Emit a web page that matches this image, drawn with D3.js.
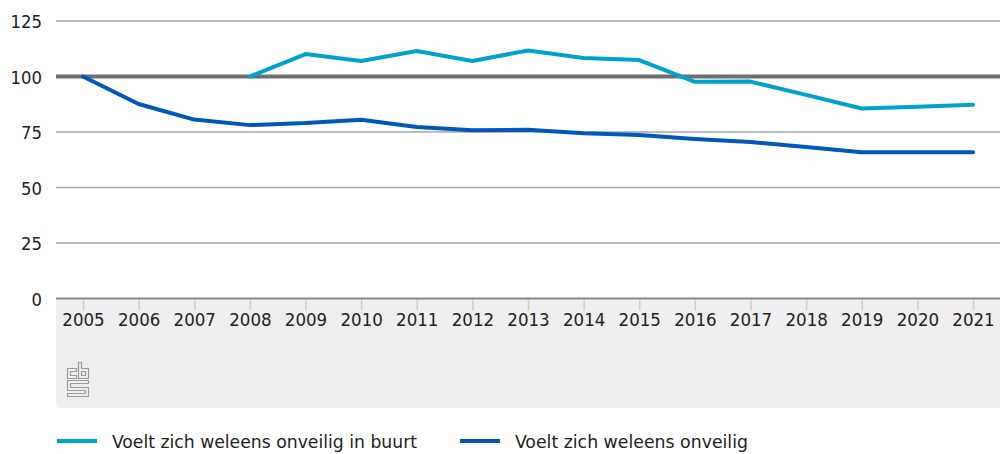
<!DOCTYPE html>
<html>
<head>
<meta charset="utf-8">
<script src="https://cdn.jsdelivr.net/npm/d3@7"></script>
<style>
body { margin: 0; background: #fff; }
svg text { font-family: "DejaVu Sans Condensed", "DejaVu Sans", sans-serif; fill: #222; }
</style>
</head>
<body>
<div id="chart"></div>
<script>
// Data
var years = ["2005","2006","2007","2008","2009","2010","2011","2012","2013","2014","2015","2016","2017","2018","2019","2020","2021"];
var buurt = [null, null, null, 100, 110.1, 107, 111.5, 107, 111.7, 108.3, 107.4, 97.6, 97.7, 91.7, 85.6, 86.4, 87.3];
var onveilig = [100, 87.6, 80.6, 78.1, 79, 80.5, 77.3, 75.8, 76, 74.4, 73.6, 71.9, 70.5, 68.2, 65.9, 65.9, 65.9];
var yTicks = [0, 25, 50, 75, 100, 125];
var seriesNames = ["Voelt zich weleens onveilig in buurt", "Voelt zich weleens onveilig"];
var colors = ["#00a1cd", "#0058b8"];

var w = 1000, h = 454;
var plotLeft = 56, plotRight = 1000, plotTop = 21, plotBottom = 298.5;

var svg = d3.select("#chart")
            .append("svg")
            .attr("width", w)
            .attr("height", h);

var x = d3.scalePoint()
          .domain(years)
          .range([83, 973]);

var y = d3.scaleLinear()
          .domain([0, 125])
          .range([plotBottom, plotTop]);

// grey band under the axis
svg.append("path")
   .attr("d", "M" + plotLeft + "," + plotBottom + "H" + plotRight + "V408H" + (plotLeft + 4) + "Q" + plotLeft + ",408 " + plotLeft + ",404Z")
   .attr("fill", "#efefef");

// gridlines
svg.selectAll(".grid")
   .data(yTicks.filter(function(d){ return d != 100 && d != 0; }))
   .enter()
   .append("line")
   .attr("x1", plotLeft)
   .attr("x2", plotRight)
   .attr("y1", function(d){ return y(d); })
   .attr("y2", function(d){ return y(d); })
   .attr("stroke", "#a6a6a6")
   .attr("stroke-width", 1.5);

// y tick labels
svg.selectAll(".ylab")
   .data(yTicks)
   .enter()
   .append("text")
   .attr("x", 42)
   .attr("y", function(d){ return y(d) + 7.3; })
   .attr("text-anchor", "end")
   .attr("font-size", 18.3)
   .text(function(d){ return d; });

// x axis ticks + labels
var xAxis = d3.axisBottom(x).tickSize(12);
var gx = svg.append("g")
            .attr("transform", "translate(0," + plotBottom + ")")
            .call(xAxis);
gx.select(".domain").remove();
gx.selectAll(".tick line").attr("stroke", "#cfcfcf").attr("stroke-width", 1.5);
gx.selectAll(".tick text")
  .attr("font-size", 18.5)
  .attr("font-family", "DejaVu Sans Condensed")
  .attr("fill", "#222")
  .attr("y", 27.2)
  .attr("dy", 0);

// baseline
svg.append("line")
   .attr("x1", plotLeft).attr("x2", plotRight)
   .attr("y1", y(0)).attr("y2", y(0))
   .attr("stroke", "#8a8a8a")
   .attr("stroke-width", 2);

// reference line at 100
svg.append("line")
   .attr("x1", plotLeft).attr("x2", plotRight)
   .attr("y1", y(100)).attr("y2", y(100))
   .attr("stroke", "#6e6e6e")
   .attr("stroke-width", 4);

// lines
var line = d3.line()
             .defined(function(d){ return d.v != null; })
             .x(function(d){ return x(d.year); })
             .y(function(d){ return y(d.v); });

[buurt, onveilig].forEach(function(s, i){
    svg.append("path")
       .datum(years.map(function(yr, j){ return {year: yr, v: s[j]}; }))
       .attr("d", line)
       .attr("fill", "none")
       .attr("stroke", colors[i])
       .attr("stroke-width", 4)
       .attr("stroke-linejoin", "round")
       .attr("stroke-linecap", "round");
});

// cbs logo (rough)
var logo = svg.append("g")
              .attr("transform", "translate(67,362)")
              .attr("fill", "none")
              .attr("stroke", "#9a9a9a")
              .attr("stroke-width", 1.2);
logo.append("path").attr("d", "M0.5,6.5H9.5V9.5H3.5V13.5H9.5V16.5H0.5Z");
logo.append("path").attr("d", "M11.5,0.5H14.5V6.5H21.5V16.5H11.5Z M14.5,9.5H18.5V13.5H14.5Z");
logo.append("path").attr("d", "M0.5,18.5H21.5V21.5H3.5V25.5H21.5V34.5H0.5V31.5H18.5V28.5H0.5Z");

// legend
var legend = svg.selectAll(".legend")
                .data(seriesNames)
                .enter()
                .append("g")
                .attr("transform", function(d, i){ return "translate(" + [57, 460][i] + ",441)"; });
legend.append("line")
      .attr("x1", 0).attr("x2", 40)
      .attr("stroke", function(d, i){ return colors[i]; })
      .attr("stroke-width", 4);
legend.append("text")
      .attr("x", 55)
      .attr("y", 7)
      .attr("font-size", 18)
      .attr("textLength", function(d, i){ return [305, 233][i]; })
      .attr("lengthAdjust", "spacingAndGlyphs")
      .text(function(d){ return d; });
</script>
</body>
</html>
